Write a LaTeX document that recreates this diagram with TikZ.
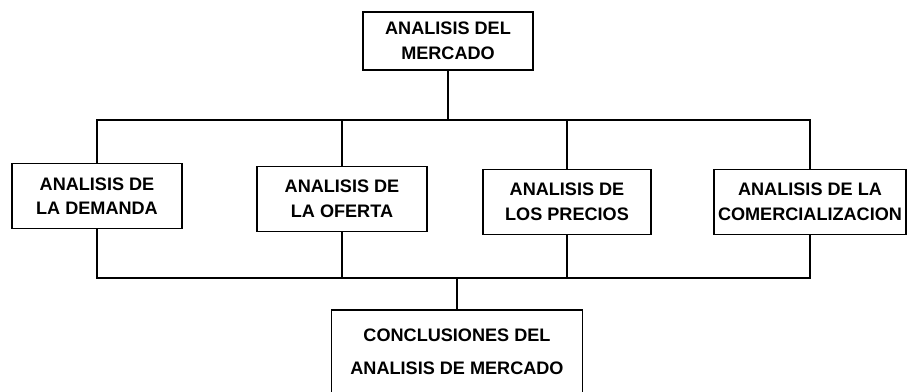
\documentclass[tikz,border=0pt]{standalone}
\usepackage{fontspec}
\setmainfont{Liberation Sans}
\begin{document}
\begin{tikzpicture}[x=0.02cm,y=-0.02cm,
	caja/.style={draw,line width=1.1pt,align=center,inner sep=0pt,
		font=\bfseries\fontsize{10.3}{14}\selectfont,minimum height=1.3cm},
	linea/.style={line width=1.1pt}]
			\useasboundingbox (0,0) rectangle (907,392);
			% cajas
			\node[caja,minimum width=3.4cm,minimum height=1.16cm] (mercado) at (448,41) {ANALISIS DEL\\MERCADO};
			\node[caja,minimum width=3.4cm] (demanda) at (97,196) {ANALISIS DE\\LA DEMANDA};
			\node[caja,minimum width=3.4cm] (oferta) at (342,199) {ANALISIS DE\\LA OFERTA};
			\node[caja,minimum width=3.36cm] (precios) at (567,202) {ANALISIS DE\\LOS PRECIOS};
			\node[caja,minimum width=3.84cm] (comercial) at (810,202) {ANALISIS DE LA\\COMERCIALIZACION};
			\node[caja,minimum width=5.02cm,minimum height=1.68cm,font=\bfseries\fontsize{10.3}{19}\selectfont] (conclusiones) at (457,352) {CONCLUSIONES DEL\\ANALISIS DE MERCADO};
			% conexiones
			\draw[linea] (mercado.south) -- (mercado.south |- 0,120);
			\draw[linea] (demanda.north) |- (comercial.north |- 0,120) -- (comercial.north);
			\draw[linea] (oferta.north) -- (oferta.north |- 0,120);
			\draw[linea] (precios.north) -- (precios.north |- 0,120);
			\draw[linea] (demanda.south) |- (comercial.south |- 0,278) -- (comercial.south);
			\draw[linea] (oferta.south) -- (oferta.south |- 0,278);
			\draw[linea] (precios.south) -- (precios.south |- 0,278);
			\draw[linea] (conclusiones.north) -- (conclusiones.north |- 0,278);
\end{tikzpicture}
\end{document}
